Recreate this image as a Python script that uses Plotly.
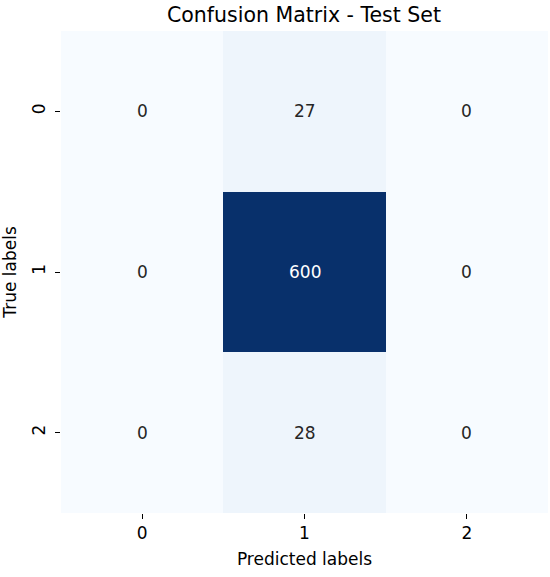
import plotly.graph_objects as go

# confusion matrix values
labels = ["0", "1", "2"]
counts = [
    [0, 27, 0],
    [0, 600, 0],
    [0, 28, 0],
]

font_family = "DejaVu Sans"
text_dark = "#262626"

fig = go.Figure(
    go.Heatmap(
        z=counts,
        x=labels,
        y=labels,
        colorscale="Blues",
        zmin=0,
        zmax=600,
        showscale=False,
    )
)

# cell annotations, white on dark cells
annotations = []
for i, row in enumerate(counts):
    for j, val in enumerate(row):
        annotations.append(
            dict(
                x=labels[j], y=labels[i], text=str(val), showarrow=False,
                font=dict(family=font_family, size=17,
                          color="white" if val > 300 else text_dark),
            )
        )

fig.update_layout(
    width=550,
    height=577,
    margin=dict(l=61, r=2, t=31, b=64),
    paper_bgcolor="white",
    plot_bgcolor="white",
    font=dict(family=font_family, size=17, color="black"),
    title=dict(text="Confusion Matrix - Test Set", x=304 / 550,
               xanchor="center", y=1 - 15 / 577, yanchor="middle",
               font=dict(family=font_family, size=20.5, color="black")),
    annotations=annotations,
)

fig.update_xaxes(
    title=dict(text="Predicted labels", font=dict(size=17, color="black"), standoff=10),
    ticks="outside", ticklen=5, tickwidth=1.2, tickcolor="black",
    showgrid=False, zeroline=False, showline=False,
    tickfont=dict(size=17, color="black"),
)
fig.update_yaxes(
    title=dict(text="True labels", font=dict(size=17, color="black"), standoff=8),
    autorange="reversed",
    ticks="outside", ticklen=5, tickwidth=1.2, tickcolor="black",
    tickangle=-90, ticklabelstandoff=3,
    showgrid=False, zeroline=False, showline=False,
    tickfont=dict(size=17, color="black"),
)

# drop the default page margin so the figure sits at the window corner
fig.write_html("out.html", config={"displayModeBar": False},
               post_script="document.body.style.margin='0';")
